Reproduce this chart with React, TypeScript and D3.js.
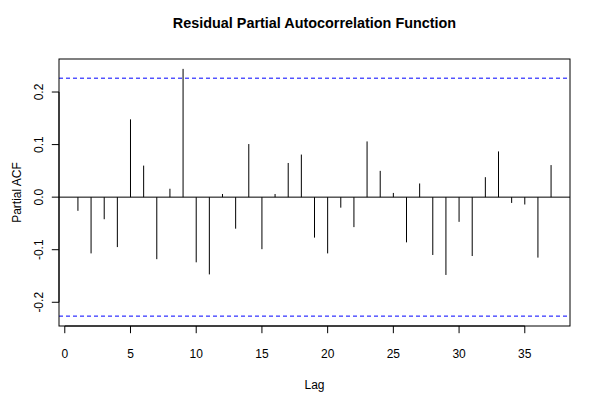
import React from "react";
import * as d3 from "d3";

const lags: number[] = [1, 2, 3, 4, 5, 6, 7, 8, 9, 10, 11, 12, 13, 14, 15, 16, 17, 18, 19, 20, 21, 22, 23, 24, 25, 26, 27, 28, 29, 30, 31, 32, 33, 34, 35, 36, 37];
const pacfValues: number[] = [
  -0.026, -0.107, -0.042, -0.095, 0.148, 0.060, -0.118, 0.016, 0.244, -0.124,
  -0.147, 0.006, -0.060, 0.101, -0.099, 0.006, 0.065, 0.081, -0.077, -0.107,
  -0.020, -0.057, 0.106, 0.050, 0.008, -0.086, 0.026, -0.110, -0.148, -0.047,
  -0.112, 0.038, 0.087, -0.011, -0.014, -0.115, 0.061,
];
const nObs = 75;
const xTicks: number[] = [0, 5, 10, 15, 20, 25, 30, 35];
const yTicks: number[] = [-0.2, -0.1, 0.0, 0.1, 0.2];
const yTickLabels: string[] = ["-0.2", "-0.1", "0.0", "0.1", "0.2"];

const W = 600;
const H = 400;
const L = 59;
const R = 570;
const T = 59;
const B = 326;
const FONT = "'Liberation Sans', Arial, Helvetica, sans-serif";

export default function App() {
  const clim = 1.959964 / Math.sqrt(nObs);
  const [lx0, lx1] = d3.extent(lags) as [number, number];
  const xpad = (lx1 - lx0) * 0.04;
  const x = d3.scaleLinear().domain([lx0 - xpad, lx1 + xpad]).range([L, R]);
  const ymin = Math.min(-clim, d3.min(pacfValues) as number);
  const ymax = Math.max(clim, d3.max(pacfValues) as number);
  const ypad = (ymax - ymin) * 0.04;
  const y = d3.scaleLinear().domain([ymin - ypad, ymax + ypad]).range([B, T]);

  return (
    <svg width={W} height={H} style={{ position: "absolute", left: 0, top: 0, background: "#fff" }} fontFamily={FONT}>
      <rect x={0} y={0} width={W} height={H} fill="#fff" />
      <text x={(L + R) / 2} y={28.3} textAnchor="middle" fontSize={14.4} fontWeight="bold" fill="#000">
        Residual Partial Autocorrelation Function
      </text>
      {/* zero line */}
      <line x1={L} x2={R} y1={y(0)} y2={y(0)} stroke="#000" strokeWidth={1} />
      {/* confidence lines */}
      {[clim, -clim].map((c, i) => (
        <line key={i} x1={L} x2={R} y1={y(c)} y2={y(c)} stroke="#0000ff" strokeWidth={1} strokeDasharray="4,3" />
      ))}
      {/* spikes */}
      {lags.map((lag, i) => (
        <line key={lag} x1={x(lag)} x2={x(lag)} y1={y(0)} y2={y(pacfValues[i])} stroke="#000" strokeWidth={1} />
      ))}
      {/* box */}
      <rect x={L} y={T} width={R - L} height={B - T} fill="none" stroke="#000" strokeWidth={1} />
      {/* x axis */}
      <line x1={x(xTicks[0])} x2={x(xTicks[xTicks.length - 1])} y1={B} y2={B} stroke="#000" />
      {xTicks.map((t) => (
        <g key={t}>
          <line x1={x(t)} x2={x(t)} y1={B} y2={B + 7.2} stroke="#000" />
          <text x={x(t)} y={357.5} textAnchor="middle" fontSize={12} fill="#000">{t}</text>
        </g>
      ))}
      {/* y axis */}
      <line x1={L} x2={L} y1={y(yTicks[0])} y2={y(yTicks[yTicks.length - 1])} stroke="#000" />
      {yTicks.map((t, i) => (
        <g key={t}>
          <line x1={L - 7.2} x2={L} y1={y(t)} y2={y(t)} stroke="#000" />
          <text transform={`translate(43.3,${y(t)}) rotate(-90)`} textAnchor="middle" fontSize={12} fill="#000">
            {yTickLabels[i]}
          </text>
        </g>
      ))}
      <text x={(L + R) / 2} y={388.6} textAnchor="middle" fontSize={12} fill="#000">Lag</text>
      <text transform={`translate(20.7,${(T + B) / 2}) rotate(-90)`} textAnchor="middle" fontSize={12} fill="#000">
        Partial ACF
      </text>
    </svg>
  );
}
